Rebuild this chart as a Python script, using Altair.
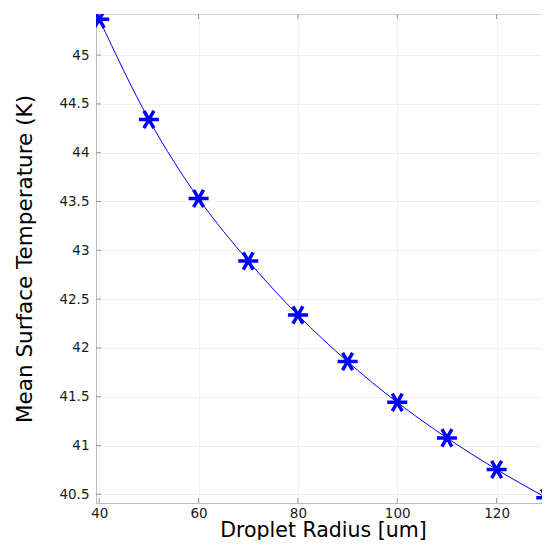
import altair as alt
import pandas as pd

# ---- data ----
radius = [40, 50, 60, 70, 80, 90, 100, 110, 120, 130]
temperature = [45.367, 44.340, 43.531, 42.891, 42.337, 41.860, 41.442, 41.078, 40.755, 40.465]
x_ticks = [40, 60, 80, 100, 120]
y_ticks = [40.5, 41, 41.5, 42, 42.5, 43, 43.5, 44, 44.5, 45]

W, H = 454, 489
FONT = "DejaVu Sans"
BLUE = "#0000ff"

df = pd.DataFrame({"r": radius, "t": temperature})
xt = pd.DataFrame({"v": x_ticks})
yt = pd.DataFrame({"v": y_ticks})

x_scale = alt.Scale(domain=[39.35, 130.75], nice=False, zero=False)
y_scale = alt.Scale(domain=[40.411, 45.421], nice=False, zero=False)

x_axis = alt.Axis(
    title="Droplet Radius [um]", values=x_ticks, format="~r",
    grid=True, gridColor="#efefef", gridWidth=1,
    ticks=False, tickSize=0, labelPadding=3, labelFlush=False, labelOverlap=False,
    labelFont=FONT, labelFontSize=13.5, labelColor="#1a1a1a",
    domainColor="#bdbdbd", domainWidth=1,
    titleFont=FONT, titleFontSize=20.5, titleFontWeight="normal", titleColor="#000000",
    titleX=W / 2, titleY=33, titleAlign="center", titleBaseline="alphabetic",
)
y_axis = alt.Axis(
    title="Mean Surface Temperature (K)", values=y_ticks, format="~r",
    grid=True, gridColor="#efefef", gridWidth=1,
    ticks=False, tickSize=0, labelPadding=7, labelFlush=False, labelOverlap=False,
    labelFont=FONT, labelFontSize=13.5, labelColor="#1a1a1a",
    domainColor="#bdbdbd", domainWidth=1,
    titleFont=FONT, titleFontSize=21.5, titleFontWeight="normal", titleColor="#000000",
    titleX=-65, titleY=H / 2, titleAngle=270, titleAlign="center", titleBaseline="alphabetic",
)

line = alt.Chart(df).mark_line(color=BLUE, strokeWidth=1, interpolate="monotone", clip=True).encode(
    x=alt.X("r:Q", scale=x_scale, axis=x_axis),
    y=alt.Y("t:Q", scale=y_scale, axis=y_axis),
)

STAR = "M-1,0L1,0M-0.5,-0.866L0.5,0.866M-0.5,0.866L0.5,-0.866"
points = alt.Chart(df).mark_point(
    shape=STAR, size=400, filled=False, color=BLUE, strokeWidth=3.5, opacity=1, clip=True
).encode(
    x=alt.X("r:Q", scale=x_scale, axis=x_axis),
    y=alt.Y("t:Q", scale=y_scale, axis=y_axis),
)

TICK = "#9a9a9a"
tick_len = 5
xb = alt.Chart(xt).mark_rule(color=TICK, strokeWidth=1).encode(
    x=alt.X("v:Q", scale=x_scale, axis=x_axis), y=alt.value(H), y2=alt.value(H - tick_len))
xtop = alt.Chart(xt).mark_rule(color=TICK, strokeWidth=1).encode(
    x=alt.X("v:Q", scale=x_scale, axis=x_axis), y=alt.value(0), y2=alt.value(tick_len))
yl = alt.Chart(yt).mark_rule(color=TICK, strokeWidth=1).encode(
    y=alt.Y("v:Q", scale=y_scale, axis=y_axis), x=alt.value(0), x2=alt.value(tick_len))
yr = alt.Chart(yt).mark_rule(color=TICK, strokeWidth=1).encode(
    y=alt.Y("v:Q", scale=y_scale, axis=y_axis), x=alt.value(W), x2=alt.value(W - tick_len))

chart = alt.layer(line, xb, xtop, yl, yr, points).properties(
    width=W, height=H,
    autosize=alt.AutoSizeParams(type="none"),
    padding={"left": 88, "top": 6, "right": -8, "bottom": 37},
    background="white",
).configure_view(stroke="#d4d4d4", strokeWidth=1)

chart.save("out.html", embed_options={"renderer": "svg", "actions": False})
